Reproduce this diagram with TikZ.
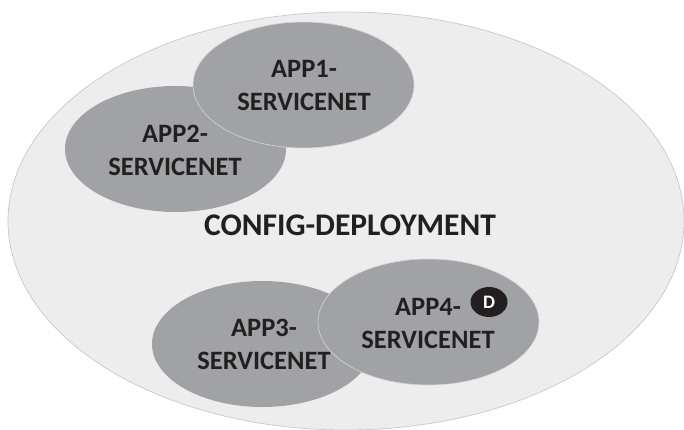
\documentclass[tikz,border=0pt]{standalone}
\usepackage{fontspec}
\setmainfont{Carlito}
\definecolor{outerfill}{HTML}{EDEDEE}
\definecolor{outerline}{HTML}{C8C9CA}
\definecolor{netfill}{HTML}{A1A2A5}
\definecolor{netline}{HTML}{D4D5D6}
\definecolor{ink}{HTML}{231F20}
\tikzset{
  outerzone/.style={ellipse,draw=outerline,fill=outerfill,line width=0.7pt,minimum width=676pt,minimum height=418pt,inner sep=0pt},
  netzone/.style={ellipse,fill=netfill,minimum width=221pt,minimum height=126pt,inner sep=0pt},
  netedge/.style={draw=netline,line width=0.6pt},
  netlabel/.style={text=ink,font=\bfseries\fontsize{26.5}{33}\selectfont,align=center,inner sep=0pt},
  mainlabel/.style={text=ink,font=\bfseries\fontsize{31.5}{31}\selectfont,inner sep=0pt},
  badge/.style={ellipse,fill=ink,text=white,font=\bfseries\fontsize{19}{19}\selectfont,minimum width=37pt,minimum height=30pt,inner sep=0pt}
}
\usetikzlibrary{shapes.geometric}
\begin{document}
\begin{tikzpicture}[x=1pt,y=-1pt]
\useasboundingbox (0,0) rectangle (684,430);
\begin{scope}
\clip (0,0) rectangle (684,430);
\node[outerzone] (config) at (346,221) {};
\end{scope}
\node[netzone] (app2) at (175.5,149) {};
\node[netzone,netedge] (app1) at (303.5,85) {};
\node[netzone] (app3) at (262.5,344) {};
\node[netzone,netedge] (app4) at (428.5,322) {};
\node[netlabel] (l1) at (304,85) {APP1-\\SERVICENET};
\node[netlabel] (l2) at (175,150) {APP2-\\SERVICENET};
\node[netlabel] (l3) at (264,344.5) {APP3-\\SERVICENET};
\node[netlabel] (l4) at (428,323) {APP4-\\SERVICENET};
\node[mainlabel] (main) at (350,225) {CONFIG-DEPLOYMENT};
\node[badge] (d) at (489,302) {D};
\end{tikzpicture}
\end{document}
